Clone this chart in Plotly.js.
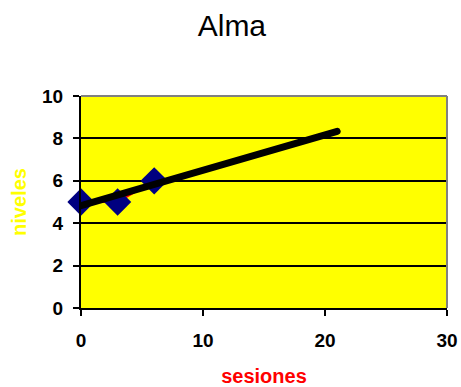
<!DOCTYPE html>
<html><head><meta charset="utf-8">
<script src="https://cdn.plot.ly/plotly-3.0.1.min.js"></script>
<style>body{margin:0;background:#fff}#c{width:461px;height:387px}</style>
</head><body><div id="c"></div>
<script>
const sesiones = [0, 3, 6];
const niveles = [5, 5, 6];
const trendX = [0, 21];
const trendY = [4.83, 8.33];
const xTicks = [0, 10, 20, 30];
const yTicks = [0, 2, 4, 6, 8, 10];

const F = 'Liberation Sans, Arial, sans-serif';
const data = [
  {x: sesiones, y: niveles, mode: 'lines+markers', type: 'scatter', cliponaxis: false,
   line: {color: '#ff0000', width: 2},
   marker: {symbol: 'diamond', size: 21, color: '#000080', line: {width: 0}}},
  {x: trendX, y: trendY, mode: 'lines', type: 'scatter', cliponaxis: false,
   line: {color: '#000000', width: 7}}
];
const layout = {
  width: 461, height: 387,
  margin: {l: 81, r: 14, t: 96, b: 79},
  paper_bgcolor: '#ffffff', plot_bgcolor: '#ffff00',
  showlegend: false,
  title: {text: 'Alma', font: {family: F, size: 30, color: '#000'}, x: 0.503, xanchor: 'center', y: 0.933, yanchor: 'middle'},
  xaxis: {range: [0, 30], tickvals: xTicks, ticktext: xTicks.map(v => '<b>' + v + '</b>'),
    ticks: 'outside', ticklen: 6, tickwidth: 2, tickcolor: '#000', ticklabelstandoff: 8,
    showline: true, linecolor: '#000', linewidth: 2, showgrid: false, zeroline: false,
    tickfont: {family: F, size: 19, color: '#000'},
    title: {text: '<b>sesiones</b>', font: {family: F, size: 20, color: '#ff0000'}, standoff: 22}},
  yaxis: {range: [0, 10], tickvals: yTicks, ticktext: yTicks.map(v => '<b>' + v + '</b>'),
    ticks: 'outside', ticklen: 6, tickwidth: 2, tickcolor: '#000', ticklabelstandoff: 6,
    showline: true, linecolor: '#000', linewidth: 2, showgrid: true, gridcolor: '#000', gridwidth: 2, zeroline: false,
    tickfont: {family: F, size: 19, color: '#000'},
    title: {text: '<b>niveles</b>', font: {family: F, size: 20, color: '#ffff00'}, standoff: 10}},
  shapes: [
    {type: 'line', xref: 'paper', yref: 'paper', x0: 0, x1: 1, y0: 1, y1: 1, line: {color: '#808080', width: 2}},
    {type: 'line', xref: 'paper', yref: 'paper', x0: 1, x1: 1, y0: 0, y1: 1, line: {color: '#808080', width: 2}}
  ]
};
Plotly.newPlot('c', data, layout, {displayModeBar: false}).then(() => {
  document.querySelectorAll('.scatterlayer .js-line').forEach(p => { p.style.strokeLinecap = 'round'; });
});
</script></body></html>
